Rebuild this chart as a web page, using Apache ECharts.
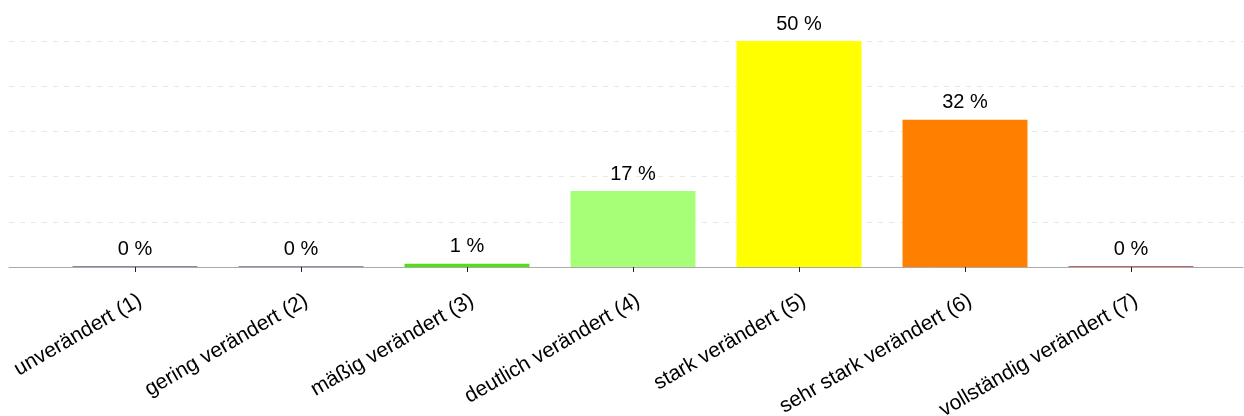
<!DOCTYPE html>
<html><head><meta charset="utf-8">
<script src="https://cdn.jsdelivr.net/npm/echarts@6/dist/echarts.min.js"></script>
<style>html,body{margin:0;padding:0;background:#fff}#c{width:1244px;height:416px}</style>
</head><body><div id="c"></div>
<script>
const categories = ["unverändert (1)","gering verändert (2)","mäßig verändert (3)","deutlich verändert (4)","stark verändert (5)","sehr stark verändert (6)","vollständig verändert (7)"];
const values = [0, 0, 0.7, 16.8, 50, 32.6, 0];
const valueLabels = ["0 %","0 %","1 %","17 %","50 %","32 %","0 %"];
const barColors = ["#7f8ba3","#8793aa","#55dd1a","#a6ff77","#ffff00","#ff8000","#b86a6a"];
const yTicks = [0, 10, 20, 30, 40, 50];

const chart = echarts.init(document.getElementById('c'), null, {renderer:'canvas'});
const font = 'Liberation Sans, Arial, sans-serif';
chart.setOption({
  animation:false,
  grid:[
    {left:9, right:1, top:41, bottom:149, containLabel:false, outerBoundsMode:'none'},
    {left:52, right:30, top:41, bottom:149, containLabel:false, outerBoundsMode:'none'}
  ],
  xAxis:[
    {gridIndex:0, type:'value', min:0, max:1, show:true,
     axisLine:{show:true, onZero:false, lineStyle:{color:'#aaaaaa', width:1}},
     axisTick:{show:false}, axisLabel:{show:false}, splitLine:{show:false}},
    {gridIndex:1, type:'category', data:categories,
     axisLine:{show:false},
     axisTick:{show:true, alignWithLabel:true, length:5, lineStyle:{color:'#222', width:1}},
     axisLabel:{rotate:30, margin:23, fontSize:21, fontFamily:font, color:'#000', interval:0,
       verticalAlign:'top'}}
  ],
  yAxis:[
    {gridIndex:0, type:'value', min:yTicks[0], max:yTicks[yTicks.length-1], interval:10,
     axisLine:{show:false}, axisTick:{show:false}, axisLabel:{show:false},
     splitLine:{show:true, lineStyle:{color:'#e8e8e8', type:[5,6], width:1}}},
    {gridIndex:1, type:'value', min:yTicks[0], max:yTicks[yTicks.length-1], interval:10,
     show:false, splitLine:{show:false}}
  ],
  series:[{
    type:'bar', xAxisIndex:1, yAxisIndex:1,
    barWidth:125, barMinHeight:1,
    data: values.map((v,i)=>({value:v, itemStyle:{color:barColors[i]}})),
    label:{show:true, position:'top', distance:7, fontSize:20, fontFamily:font, color:'#000',
      formatter:p=>valueLabels[p.dataIndex]}
  }]
});
</script></body></html>
